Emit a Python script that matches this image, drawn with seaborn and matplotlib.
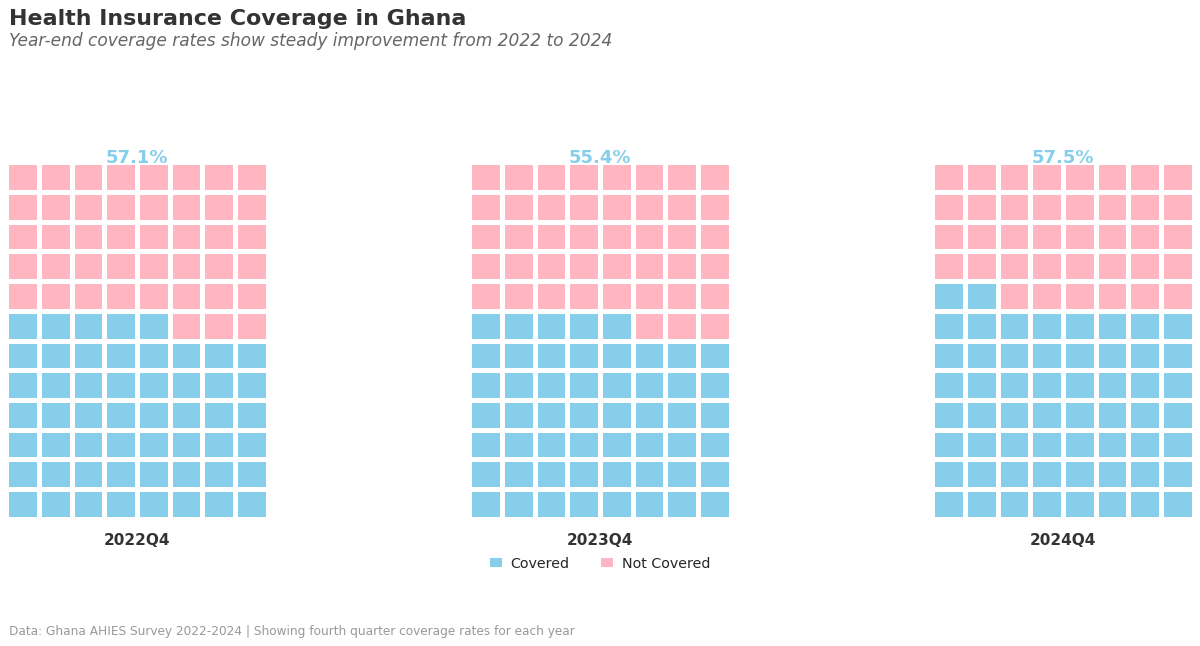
import numpy as np
import pandas as pd
import matplotlib
matplotlib.use("Agg")
import matplotlib.pyplot as plt
from matplotlib.colors import ListedColormap
from matplotlib.patches import Patch
import seaborn as sns

# ---- data ----
quarters = ["2022Q4", "2023Q4", "2024Q4"]
coverage_pct = [57.1, 55.4, 57.5]
covered_cells = [53, 53, 58]   # cells drawn as covered in each waffle (of 96)
n_cols = 8
n_rows = 12
legend_labels = ["Covered", "Not Covered"]
colors = ["#87CEEB", "#FFB6C1"]

sns.set_theme(style="white")
plt.rcParams["font.family"] = ["DejaVu Sans"]

fig = plt.figure(figsize=(12, 6.46), dpi=100)
cmap = ListedColormap(colors)

lefts = [8, 471, 934]
pw, top_px, bot_px = 258, 164, 517
lw = 2.2
pad = lw * 100 / 72 / 2
for i, q in enumerate(quarters):
    flat = np.ones(n_rows * n_cols)
    flat[:covered_cells[i]] = 0
    grid = flat.reshape(n_rows, n_cols)[::-1]
    df = pd.DataFrame(grid)
    ax = fig.add_axes([(lefts[i] - pad) / 1200, 1 - (bot_px + pad) / 646,
                       (pw + 2 * pad) / 1200, (bot_px - top_px + 2 * pad) / 646])
    sns.heatmap(df, ax=ax, cmap=cmap, vmin=0, vmax=1, cbar=False,
                linewidths=lw, linecolor="white", square=False,
                xticklabels=False, yticklabels=False)
    ax.set_xlabel("")
    ax.set_ylabel("")
    for s in ax.spines.values():
        s.set_visible(False)
    ax.text(0.5, 1.0 + 4.5 / 356, f"{coverage_pct[i]}%", transform=ax.transAxes,
            ha="center", va="center", fontsize=13, fontweight="bold",
            color=colors[0])
    ax.text(0.5, -22 / 356, q, transform=ax.transAxes, ha="center", va="center",
            fontsize=11, fontweight="bold", color="#333333")

fig.text(9 / 1200, 1 - 19 / 646, "Health Insurance Coverage in Ghana",
         fontsize=15.9, fontweight="bold", color="#333333", ha="left", va="center")
fig.text(9 / 1200, 1 - 41 / 646,
         "Year-end coverage rates show steady improvement from 2022 to 2024",
         fontsize=12.25, style="italic", color="#666666", ha="left", va="center")
fig.text(9 / 1200, 1 - 631 / 646,
         "Data: Ghana AHIES Survey 2022-2024 | Showing fourth quarter coverage rates for each year",
         fontsize=8.7, color="#999999", ha="left", va="center")

handles = [Patch(facecolor=c, edgecolor="none", label=l) for c, l in zip(colors, legend_labels)]
fig.legend(handles=handles, loc="center", bbox_to_anchor=(600 / 1200, 1 - 564 / 646),
           ncol=2, frameon=False, fontsize=10.3, handlelength=0.85, handleheight=0.6,
           columnspacing=2.2, handletextpad=0.6)

fig.savefig("out.png", dpi=100)
